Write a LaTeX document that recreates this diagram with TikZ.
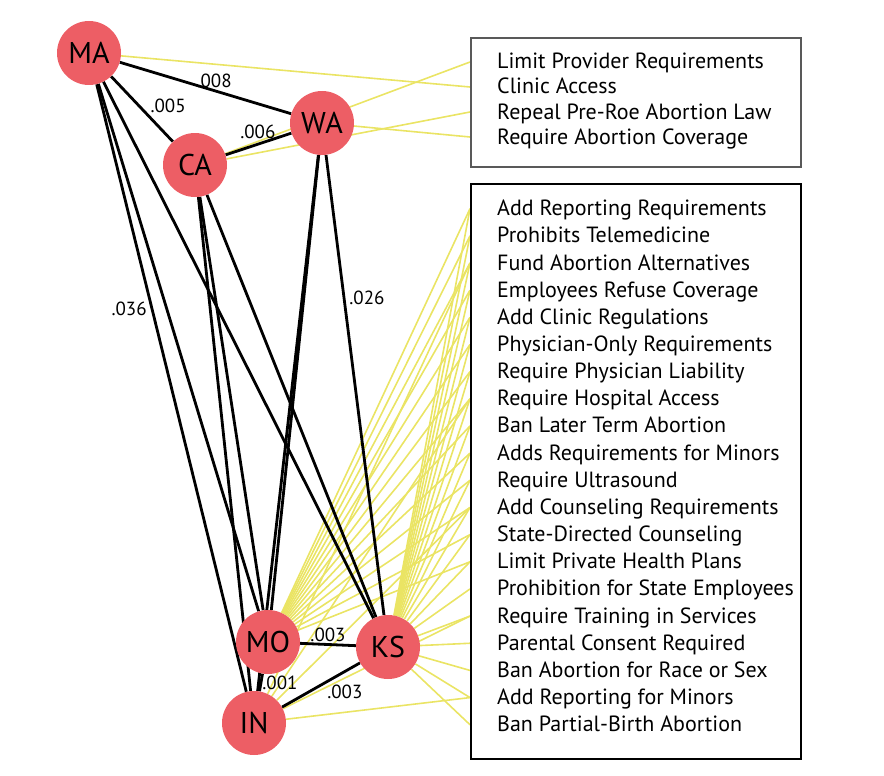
\documentclass[tikz,border=0pt]{standalone}
\usepackage{fontspec}
\setmainfont{PT Sans}
\definecolor{statered}{RGB}{237,94,101}
\definecolor{lawyellow}{RGB}{234,228,100}
\pgfdeclarelayer{links}
\pgfdeclarelayer{ties}
\pgfsetlayers{links,ties,main}

\begin{document}
\begin{tikzpicture}[x=1pt,y=-1pt]
  \useasboundingbox (0,0) rectangle (884,776);

  % states
  \begin{scope}[every node/.style={circle, fill=statered, minimum size=64pt, inner sep=0pt,
      font=\fontsize{30}{30}\selectfont}]
    \node (MA) at (89,53)   {MA};
    \node (WA) at (322,123) {WA};
    \node (CA) at (195,165) {CA};
    \node (MO) at (268,642) {MO};
    \node (KS) at (388,647) {KS};
    \node (IN) at (254,723) {IN};
  \end{scope}

  % policy boxes
  \node[draw=black!65, line width=2pt, minimum width=330pt, minimum height=129pt,
    anchor=north west, inner sep=0pt] (topbox) at (470,37) {};
  \node[draw, line width=1.5pt, minimum width=330pt, minimum height=575pt,
    anchor=north west, inner sep=0pt] (botbox) at (470,183) {};

  \begin{scope}[every node/.style={anchor=base west, inner sep=0pt,
      font=\fontsize{22}{22}\selectfont}]
    \foreach \txt [count=\i] in {Limit Provider Requirements, Clinic Access,
        Repeal Pre-Roe Abortion Law, Require Abortion Coverage} {
      \node (t\i) at (497,{69+25*(\i-1)}) {\txt};
      \coordinate (a\i) at (470,{62+25*(\i-1)});
    }
    \foreach \txt [count=\i] in {Add Reporting Requirements, Prohibits Telemedicine,
        Fund Abortion Alternatives, Employees Refuse Coverage, Add Clinic Regulations,
        Physician-Only Requirements, Require Physician Liability, Require Hospital Access,
        Ban Later Term Abortion, Adds Requirements for Minors, Require Ultrasound,
        Add Counseling Requirements, State-Directed Counseling, Limit Private Health Plans,
        Prohibition for State Employees, Require Training in Services,
        Parental Consent Required, Ban Abortion for Race or Sex, Add Reporting for Minors,
        Ban Partial-Birth Abortion} {
      \node (p\i) at (497,{215.7+27.16*(\i-1)}) {\txt};
      \coordinate (b\i) at (470,{208.7+27.16*(\i-1)});
    }
  \end{scope}

  % state to policy links
  \begin{pgfonlayer}{links}
    \begin{scope}[lawyellow, line width=1.6pt]
      \draw (MA) -- (a2);
      \draw (CA) -- (a1);
      \draw (CA) -- (a3);
      \draw (WA) -- (a4);
      \foreach \i in {1,...,14} \draw (MO) -- (b\i);
      \foreach \i in {1,...,20} \draw (KS) -- (b\i);
      \foreach \i in {3,8,12,16,19} \draw (IN) -- (b\i);
    \end{scope}
  \end{pgfonlayer}

  % state to state distances
  \begin{pgfonlayer}{ties}
    \begin{scope}[every node/.style={font=\fontsize{19}{19}\selectfont, inner sep=1pt}]
      \begin{scope}[every edge/.style={draw, line width=2.8pt}]
        \path (MA) edge node[pos=.55, anchor=south] {.008} (WA);
        \path (MA) edge node[pos=.6, anchor=south west] {.005} (CA);
        \path (CA) edge node[pos=.49, anchor=south, yshift=3pt] {.006} (WA);
        \path (MA) edge (MO);
        \path (MA) edge node[pos=.37, anchor=east, inner sep=4pt] {.036} (IN);
        \path (MA) edge (KS);
        \path (CA) edge (MO);
        \path (CA) edge (IN);
        \path (CA) edge (KS);
        \path (WA) edge (MO);
        \path (WA) edge (IN);
        \path (WA) edge node[pos=.31, anchor=west, inner sep=4pt] {.026} (KS);
        \path (MO) edge node[pos=.5, anchor=south] {.003} (KS);
        \path (MO) edge node[pos=.5, anchor=west, inner sep=0pt] {.001} (IN);
        \path (IN) edge node[pos=.55, anchor=north west] {.003} (KS);
      \end{scope}
    \end{scope}
  \end{pgfonlayer}

\end{tikzpicture}
\end{document}
